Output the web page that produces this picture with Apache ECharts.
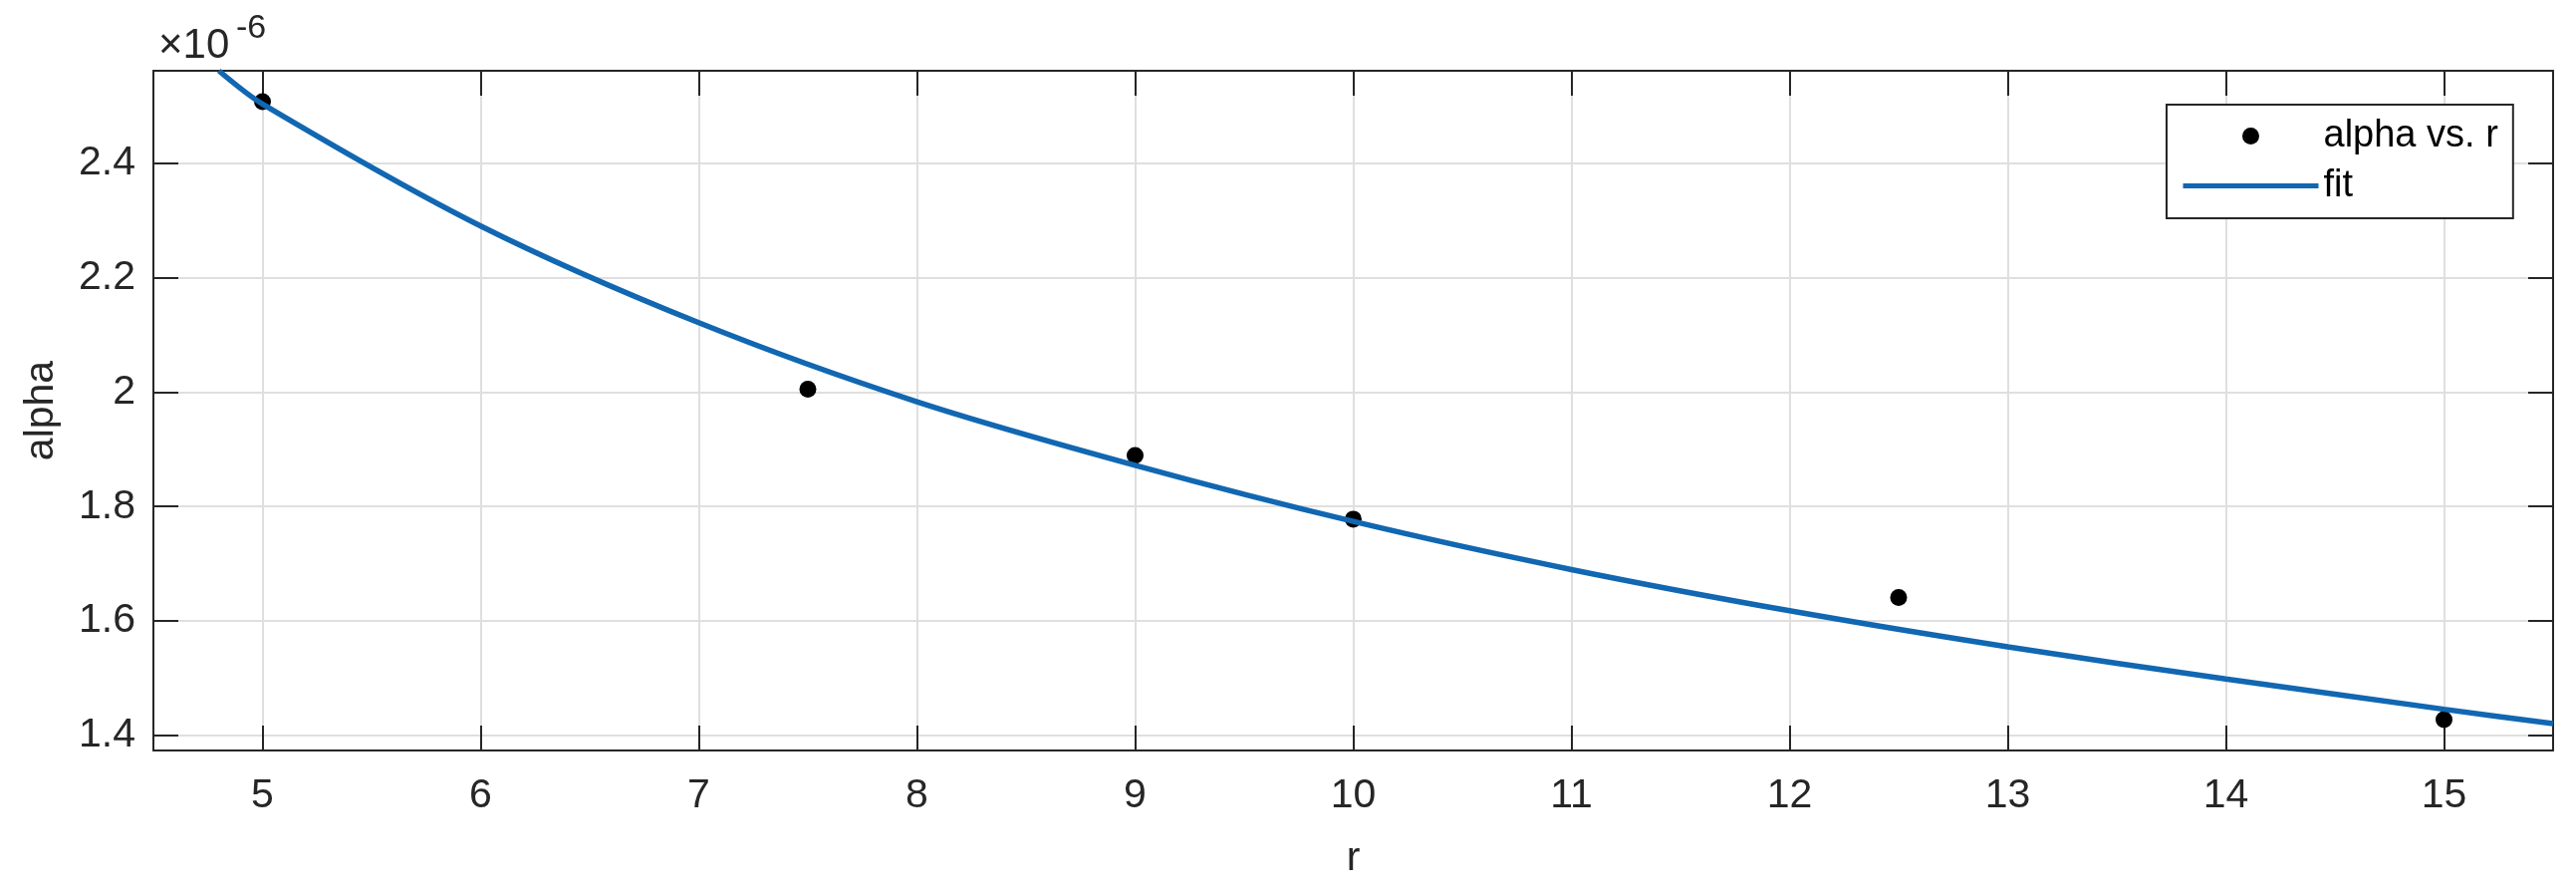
<!DOCTYPE html>
<html>
<head>
	<title>alpha vs r</title>
	<meta charset="utf-8">
	<style type="text/css">
		body {
			margin: 0;
			padding: 0;
			background-color: #fff;
		}
		#main {
			width: 2586px;
			height: 899px;
		}
	</style>
	<script src="https://cdn.jsdelivr.net/npm/echarts@6/dist/echarts.min.js"></script>
</head>
<body>
	<div id="main"></div>

	<script type="text/javascript">

	// measured points (alpha in units of 1e-6)
	var rPoints = [5, 7.5, 9, 10, 12.5, 15];
	var alphaPoints = [2.507, 2.005, 1.889, 1.778, 1.641, 1.428];

	// fit curve
	var rFit = [4.8, 5, 6, 7, 8, 9, 10, 11, 12, 13, 14, 15, 15.5];
	var alphaFit = [2.561, 2.503, 2.290, 2.121, 1.983, 1.872, 1.774, 1.690, 1.618, 1.555, 1.499, 1.446, 1.421];

	// tick labels
	var xTicks = [5, 6, 7, 8, 9, 10, 11, 12, 13, 14, 15];
	var yTicks = [1.4, 1.6, 1.8, 2, 2.2, 2.4];

	var axisColor = '#262626';
	var gridColor = '#dfdfdf';
	var lineColor = '#1167b1';
	var font = 'Liberation Sans';

	function zip(a, b) {
		var out = [];
		for (var i = 0; i < a.length; i++) {
			out.push([a[i], b[i]]);
		}
		return out;
	}

	// main = labelled axis (bottom / left), the others only carry ticks
	function makeAxis(pos, isX, main) {
		return {
			type: 'value',
			position: pos,
			min: isX ? 4.5 : 1.374,
			max: isX ? 15.5 : 2.561,
			axisLine: { show: true, onZero: false, lineStyle: { color: axisColor, width: 2 } },
			axisTick: {
				show: true,
				inside: true,
				length: 25,
				customValues: isX ? xTicks : yTicks,
				lineStyle: { color: axisColor, width: 2 }
			},
			axisLabel: {
				show: main,
				customValues: isX ? xTicks : yTicks,
				color: axisColor,
				fontFamily: font,
				fontSize: 41,
				margin: isX ? 25 : 18
			},
			splitLine: { show: main, lineStyle: { color: gridColor, width: 2 } },
			name: main ? (isX ? 'r' : 'alpha') : '',
			nameLocation: 'middle',
			nameGap: isX ? 88 : 92,
			nameTextStyle: { color: axisColor, fontFamily: font, fontSize: 41 }
		};
	}

	var myChart = echarts.init(document.getElementById('main'));

	var option = {
		animation: false,
		backgroundColor: '#fff',
		grid: {
			left: 154,
			top: 71,
			right: 23,
			bottom: 146,
			containLabel: false
		},
		xAxis: [makeAxis('bottom', true, true), makeAxis('top', true, false)],
		yAxis: [makeAxis('left', false, true), makeAxis('right', false, false)],
		legend: {
			left: 2175,
			top: 105,
			orient: 'vertical',
			align: 'left',
			backgroundColor: '#fff',
			borderColor: axisColor,
			borderWidth: 2,
			borderRadius: 0,
			padding: [11, 15, 12, 14],
			itemWidth: 136,
			itemHeight: 17,
			itemGap: 9,
			textStyle: { color: '#000', fontFamily: font, fontSize: 38, lineHeight: 41 },
			data: [
				{ name: 'alpha vs. r', icon: 'circle', itemStyle: { color: '#000', opacity: 1 } },
				{ name: 'fit', itemStyle: { opacity: 0 }, lineStyle: { color: lineColor, width: 5 } }
			]
		},
		// the x10^-6 multiplier above the y axis
		graphic: [
			{
				type: 'text',
				left: 159,
				top: 25,
				style: { text: '×10', fill: axisColor, fontFamily: font, fontSize: 42 }
			},
			{
				type: 'text',
				left: 237,
				top: 12,
				style: { text: '-6', fill: axisColor, fontFamily: font, fontSize: 34 }
			}
		],
		series: [
			{
				name: 'alpha vs. r',
				type: 'scatter',
				symbol: 'circle',
				symbolSize: 17,
				itemStyle: { color: '#000', opacity: 1 },
				data: zip(rPoints, alphaPoints)
			},
			{
				name: 'fit',
				type: 'line',
				smooth: 0.3,
				showSymbol: false,
				symbol: 'none',
				clip: true,
				lineStyle: { color: lineColor, width: 5.5 },
				itemStyle: { color: lineColor },
				data: zip(rFit, alphaFit)
			}
		]
	};

	myChart.setOption(option);

	</script>
</body>
</html>
